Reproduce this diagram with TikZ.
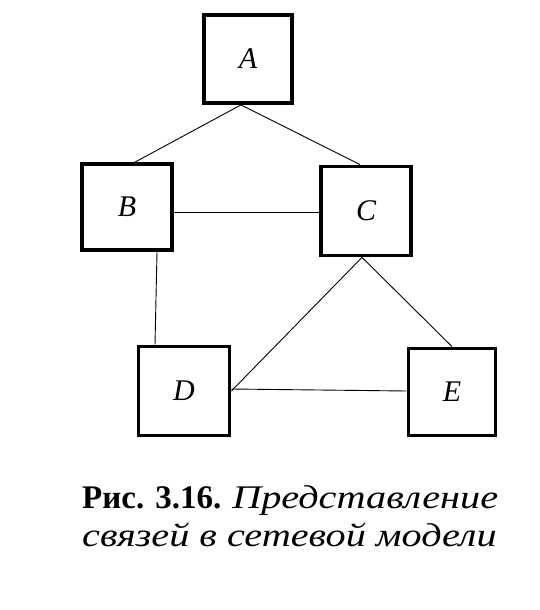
\documentclass[tikz,border=0pt]{standalone}
\usepackage{fontspec}
\setmainfont{Liberation Serif}
\newfontfamily\capitfont[FakeStretch=1.22]{Liberation Serif}
\begin{document}
\begin{tikzpicture}[x=1pt,y=-1pt,
  box/.style={draw,line width=3.8pt,inner sep=0pt,font=\fontsize{30}{30}\selectfont\itshape},
  link/.style={line width=0.9pt},
  captext/.style={anchor=base west,inner sep=0pt,font=\fontsize{33}{38}\selectfont}]
\useasboundingbox (0,0) rectangle (540,610);
\node[box,minimum width=88pt,minimum height=88pt] (A) at (248,59) {A};
\node[box,minimum width=90pt,minimum height=86pt] (B) at (127,207) {B};
\node[box,minimum width=90pt,minimum height=89pt] (C) at (366,211) {C};
\node[box,minimum width=91pt,minimum height=89pt] (D) at (184,391) {D};
\node[box,minimum width=87pt,minimum height=87pt] (E) at (452,392) {E};
\draw[link] ([xshift=-7pt]A.south) -- ([xshift=8pt]B.north);
\draw[link] ([xshift=-7pt]A.south) -- ([xshift=-6pt]C.north);
\draw[link] ([yshift=-5pt]B.east) -- ([yshift=-1pt]C.west);
\draw[link] ([xshift=30pt]B.south) -- ([xshift=-29pt]D.north);
\draw[link] ([xshift=-4pt]C.south) -- (D.east);
\draw[link] ([xshift=-4pt]C.south) -- (E.north);
\draw[link] ([yshift=2pt]D.east) -- ([yshift=1pt]E.west);
\node[captext] (cap1) at (82,508) {\textbf{Рис. 3.16.} {\capitfont\itshape Представление}};
\node[captext] (cap2) at (82,546) {\capitfont\itshape связей в сетевой модели};
\end{tikzpicture}
\end{document}
